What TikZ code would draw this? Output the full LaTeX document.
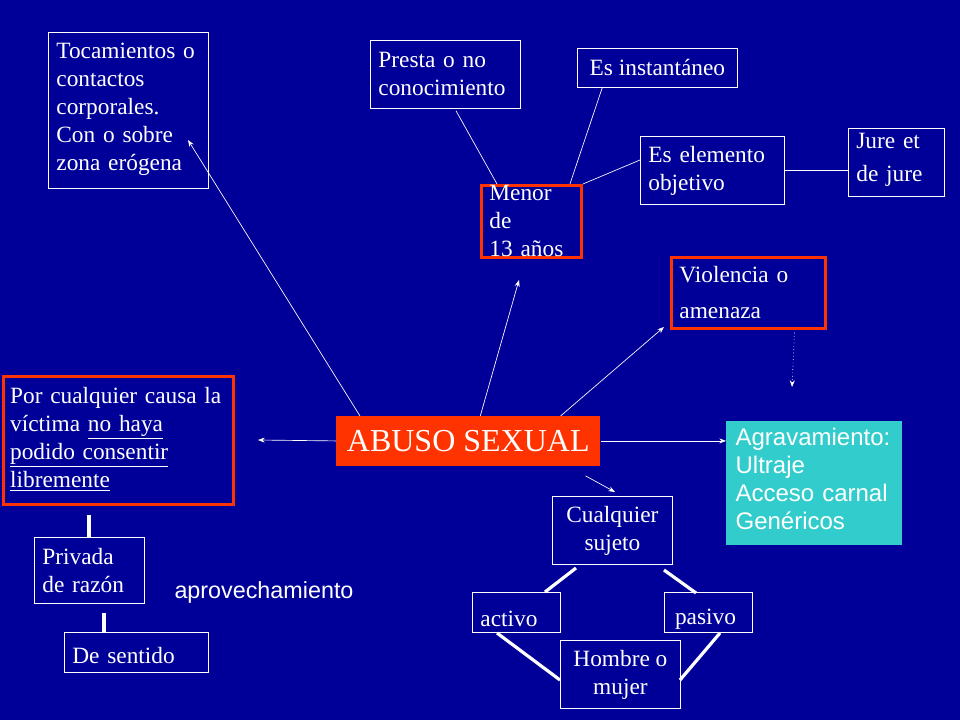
\documentclass[tikz,border=0pt]{standalone}
\usepackage{fontspec}
\setmainfont{Liberation Serif}
\setsansfont{Liberation Sans}
\usepackage{xcolor}
\usetikzlibrary{arrows.meta, positioning}
\definecolor{slideblue}{RGB}{0, 0, 153}
\definecolor{alertred}{RGB}{255, 51, 0}
\definecolor{aquabox}{RGB}{51, 204, 204}

\tikzset{
  plainbox/.style={draw=white, line width=0.6pt, text=white, align=left, anchor=north west, inner sep=0pt, font=\fontsize{17.5}{21}\selectfont},
  redbox/.style={plainbox, draw=alertred, line width=2.2pt},
  thin arrow/.style={white, line width=0.5pt, -{Stealth[length=5pt]}},
  bar/.style={white, line width=2.4pt}
}

\begin{document}
\begin{tikzpicture}[x=0.75pt, y=-0.75pt]

  % background
  \fill[slideblue] (0,0) rectangle (960,720);
  \useasboundingbox (0,0) rectangle (960,720);

  % top boxes
  \node[plainbox, minimum width=120pt, minimum height=117pt, text width=120pt] (toca) at (48,32)
    {\hspace*{6pt}\begin{minipage}[t]{113pt}\vspace*{-2pt}Tocamientos o\\contactos\\corporales.\\Con o sobre\\zona erógena\end{minipage}};
  \node[plainbox, minimum width=112.5pt, minimum height=51pt, text width=112.5pt] (presta) at (370,40)
    {\hspace*{6pt}\begin{minipage}[t]{105pt}Presta o no\\conocimiento\end{minipage}};
  \node[plainbox, minimum width=120pt, minimum height=29pt, align=center] (inst) at (577,48)
    {Es instantáneo};
  \node[plainbox, minimum width=108pt, minimum height=51pt, text width=108pt] (elem) at (640,136)
    {\hspace*{6pt}\begin{minipage}[t]{101pt}Es elemento\\objetivo\end{minipage}};
  \node[plainbox, minimum width=72pt, minimum height=51pt, text width=72pt] (jure) at (848,128)
    {\hspace*{6pt}\begin{minipage}[t]{65pt}\vspace*{-4pt}Jure et\\[4pt]de jure\end{minipage}};
  \node[redbox, minimum width=75pt, minimum height=54pt, text width=75pt] (menor) at (480,184)
    {\hspace*{6pt}\begin{minipage}[t]{68pt}Menor de\\13 años\end{minipage}};
  \node[redbox, minimum width=115.5pt, minimum height=53pt, text width=115.5pt] (viol) at (670,256)
    {\hspace*{6pt}\begin{minipage}[t]{108pt}Violencia o\\[6pt]amenaza\end{minipage}};

  % centre
  \node[fill=alertred, text=white, minimum width=198pt, minimum height=37pt, anchor=north west,
    inner sep=0pt, font=\fontsize{24}{26}\selectfont] (abuso) at (336,416) {ABUSO SEXUAL};
  \node[fill=aquabox, text=white, anchor=north west, minimum width=132pt, minimum height=93pt,
    text width=132pt, inner sep=0pt, align=left, font=\sffamily\fontsize{18}{21}\selectfont] (agrav) at (726,421)
    {\hspace*{7pt}\begin{minipage}[t]{124pt}\vspace*{-6pt}Agravamiento:\\Ultraje\\Acceso carnal\\Genéricos\end{minipage}};

  % left side
  \node[redbox, minimum width=172.5pt, minimum height=96pt, text width=172.5pt] (causa) at (2,375)
    {\hspace*{5pt}\begin{minipage}[t]{166pt}\vspace*{-2pt}Por cualquier causa la\\víctima \underline{no haya}\\\underline{podido consentir}\\\underline{libremente}\end{minipage}};
  \node[plainbox, minimum width=82.5pt, minimum height=49.5pt, text width=82.5pt] (privada) at (34,537)
    {\hspace*{6pt}\begin{minipage}[t]{75pt}Privada\\de razón\end{minipage}};
  \node[plainbox, minimum width=108pt, minimum height=30pt, text width=108pt] (sentido) at (64,632)
    {\hspace*{6pt}\begin{minipage}[t]{100pt}\vspace*{5pt}De sentido\end{minipage}};
  \node[text=white, font=\sffamily\fontsize{17.5}{19}\selectfont] (aprov) at (264,592) {aprovechamiento};

  % subject boxes
  \node[plainbox, minimum width=90pt, minimum height=51pt, align=center] (cualq) at (552,496)
    {\begin{minipage}[t]{88pt}\centering Cualquier\\sujeto\end{minipage}};
  \node[plainbox, minimum width=66pt, minimum height=30pt, text width=66pt] (activo) at (472,592)
    {\hspace*{6pt}\begin{minipage}[t]{59pt}\vspace*{9pt}activo\end{minipage}};
  \node[plainbox, minimum width=66pt, minimum height=30pt, text width=66pt] (pasivo) at (664,592)
    {\hspace*{8pt}\begin{minipage}[t]{57pt}\vspace*{11pt}pasivo\end{minipage}};
  \node[plainbox, minimum width=90pt, minimum height=51pt, align=center] (hombre) at (560,640)
    {\begin{minipage}[t]{88pt}\centering Hombre o\\mujer\end{minipage}};

  % free ends
  \coordinate (tocaEnd) at (188,140);
  \coordinate (menorEnd) at (519,280);
  \coordinate (violEnd) at (664,327);
  \coordinate (causaEnd) at (258,440);
  \coordinate (cualqEnd) at (615,492);
  \coordinate (agravEnd) at (792,387);

  % arrows from centre
  \draw[thin arrow] (abuso.north west) ++(24,0) -- (tocaEnd);
  \draw[thin arrow] (abuso.north) ++(12,0) -- (menorEnd);
  \draw[thin arrow] (abuso.north east) ++(-40,0) -- (violEnd);
  \draw[thin arrow] (abuso.east) -- (agrav.west |- abuso.east);
  \draw[thin arrow] (abuso.west) -- (causaEnd);
  \draw[thin arrow] (abuso.south east) ++(-15,10) -- (cualqEnd);
  \draw[thin arrow, dotted] (viol.south) ++(46,3) -- (agravEnd);

  % links of the minor box
  \draw[white, line width=0.5pt] ([xshift=12.75pt]menor.north west) -- ([shift={(86,2)}]presta.south west);
  \draw[white, line width=0.5pt] ([xshift=-9.75pt]menor.north east) -- ([xshift=19pt]inst.south west);
  \draw[white, line width=0.5pt] (menor.north east) -- ([yshift=-18pt]elem.north west);
  \draw[white, line width=0.5pt] (elem.east) -- (jure.west |- elem.east);

  % thick bars
  \draw[bar] (causa.south west) ++(87,9) -- (privada.north west -| 89,0);
  \draw[bar] (privada.south west) ++(70,9) -- (sentido.north west -| 104,0);
  \draw[bar] (576,568) -- (545,592);
  \draw[bar] (664,570) -- (696,593);
  \draw[bar] (497,633) -- (560,680);
  \draw[bar] (720,633) -- (680,680);

\end{tikzpicture}
\end{document}
